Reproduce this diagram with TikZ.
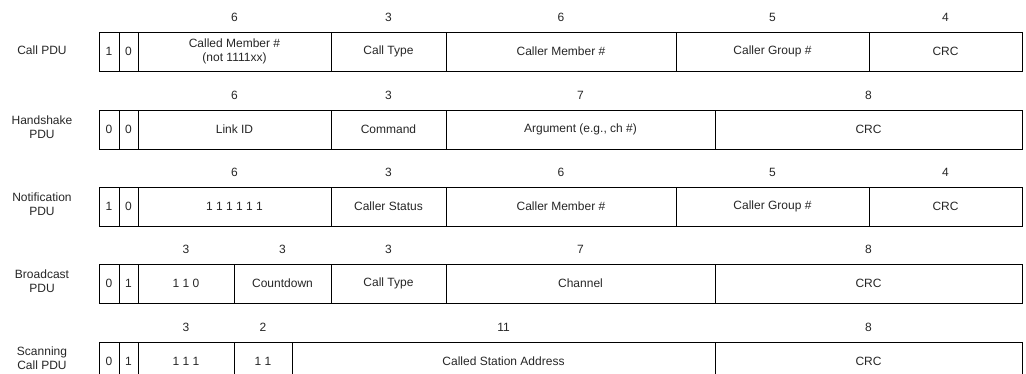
\documentclass[tikz,border=0pt]{standalone}
\usepackage{fontspec}
\setmainfont{Liberation Sans}
\newcommand\pdufont{\fontsize{12}{14}\selectfont}
\tikzset{
  cellbox/.style={draw=black, line width=0.9pt, anchor=north west, inner sep=0pt,
    outer sep=0pt, minimum height=39pt, align=center, font=\pdufont, text=black!85},
  bitlabel/.style={font=\pdufont, inner sep=0pt, text=black!85},
  rowlabel/.style={font=\pdufont, align=center, inner sep=0pt, text=black!85}
}
\newcommand\fcell[5]{\node[cellbox, minimum width={(#3-#2)*1pt}] (#1) at (#2,#4) {#5};}
\newcommand\bitlab[3]{\node[bitlabel] (#1) at ([yshift=15pt]#2.north) {#3};}
\begin{document}
\begin{tikzpicture}[x=1pt,y=-1pt]
\useasboundingbox (0,0) rectangle (1026,374);
\clip (0,0) rectangle (1026,374);
% Row 1: Call PDU
\node[rowlabel] (l1) at (42,50) {Call PDU};
\fcell{r1a}{99}{119}{32}{1}
\fcell{r1b}{119}{138}{32}{0}
\fcell{r1c}{138}{331}{32}{Called Member \#\\(not 1111xx)}
\fcell{r1d}{331}{446}{32}{Call Type}
\fcell{r1e}{446}{676}{32}{Caller Member \#}
\fcell{r1f}{676}{869}{32}{Caller Group \#}
\fcell{r1g}{869}{1022}{32}{CRC}
\bitlab{b1c}{r1c}{6}
\bitlab{b1d}{r1d}{3}
\bitlab{b1e}{r1e}{6}
\bitlab{b1f}{r1f}{5}
\bitlab{b1g}{r1g}{4}
% Row 2: Handshake PDU
\node[rowlabel] (l2) at (42,127) {Handshake\\PDU};
\fcell{r2a}{99}{119}{110}{0}
\fcell{r2b}{119}{138}{110}{0}
\fcell{r2c}{138}{331}{110}{Link ID}
\fcell{r2d}{331}{446}{110}{Command}
\fcell{r2e}{446}{715}{110}{Argument (e.g., ch \#)}
\fcell{r2f}{715}{1022}{110}{CRC}
\bitlab{b2c}{r2c}{6}
\bitlab{b2d}{r2d}{3}
\bitlab{b2e}{r2e}{7}
\bitlab{b2f}{r2f}{8}
% Row 3: Notification PDU
\node[rowlabel] (l3) at (42,204) {Notification\\PDU};
\fcell{r3a}{99}{119}{187}{1}
\fcell{r3b}{119}{138}{187}{0}
\fcell{r3c}{138}{331}{187}{1 1 1 1 1 1}
\fcell{r3d}{331}{446}{187}{Caller Status}
\fcell{r3e}{446}{676}{187}{Caller Member \#}
\fcell{r3f}{676}{869}{187}{Caller Group \#}
\fcell{r3g}{869}{1022}{187}{CRC}
\bitlab{b3c}{r3c}{6}
\bitlab{b3d}{r3d}{3}
\bitlab{b3e}{r3e}{6}
\bitlab{b3f}{r3f}{5}
\bitlab{b3g}{r3g}{4}
% Row 4: Broadcast PDU
\node[rowlabel] (l4) at (42,281) {Broadcast\\PDU};
\fcell{r4a}{99}{119}{264}{0}
\fcell{r4b}{119}{138}{264}{1}
\fcell{r4c}{138}{234}{264}{1 1 0}
\fcell{r4d}{234}{331}{264}{Countdown}
\fcell{r4e}{331}{446}{264}{Call Type}
\fcell{r4f}{446}{715}{264}{Channel}
\fcell{r4g}{715}{1022}{264}{CRC}
\bitlab{b4c}{r4c}{3}
\bitlab{b4d}{r4d}{3}
\bitlab{b4e}{r4e}{3}
\bitlab{b4f}{r4f}{7}
\bitlab{b4g}{r4g}{8}
% Row 5: Scanning Call PDU
\node[rowlabel] (l5) at (42,358) {Scanning\\Call PDU};
\fcell{r5a}{99}{119}{342}{0}
\fcell{r5b}{119}{138}{342}{1}
\fcell{r5c}{138}{234}{342}{1 1 1}
\fcell{r5d}{234}{292}{342}{1 1}
\fcell{r5e}{292}{715}{342}{Called Station Address}
\fcell{r5f}{715}{1022}{342}{CRC}
\bitlab{b5c}{r5c}{3}
\bitlab{b5d}{r5d}{2}
\bitlab{b5e}{r5e}{11}
\bitlab{b5f}{r5f}{8}
\end{tikzpicture}
\end{document}
